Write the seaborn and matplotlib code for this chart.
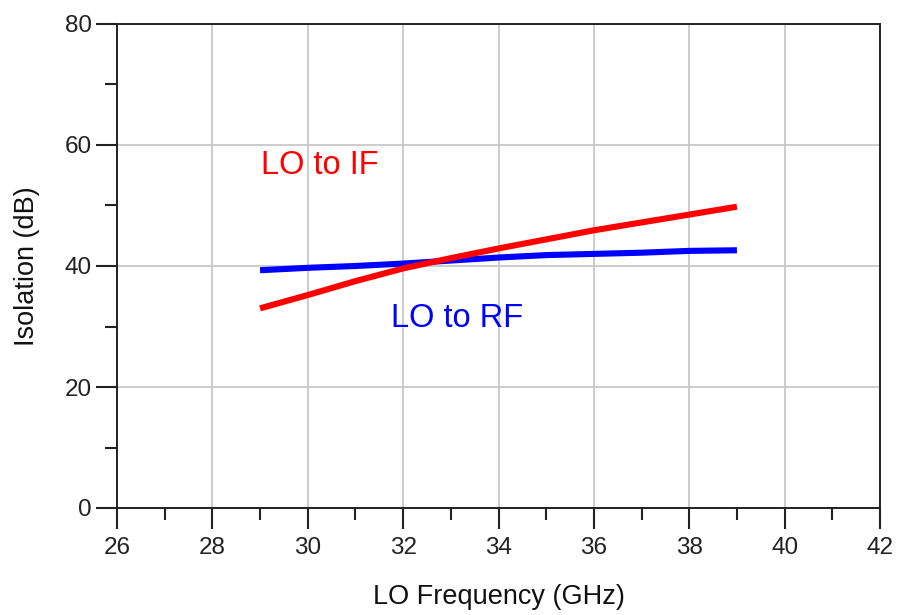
import matplotlib
matplotlib.use("Agg")
import matplotlib.pyplot as plt
from matplotlib.ticker import MultipleLocator
import seaborn as sns
import pandas as pd

# LO frequency sweep (GHz)
freq_ghz = [29, 30, 31, 32, 33, 34, 35, 36, 37, 38, 39]
# LO-to-IF isolation (dB)
lo_to_if = [33.0, 35.2, 37.5, 39.6, 41.3, 42.9, 44.4, 45.9, 47.2, 48.5, 49.8]
# LO-to-RF isolation (dB)
lo_to_rf = [39.3, 39.7, 40.0, 40.4, 40.9, 41.4, 41.8, 42.0, 42.2, 42.5, 42.6]

x_ticks = [26, 28, 30, 32, 34, 36, 38, 40, 42]
y_ticks = [0, 20, 40, 60, 80]

sns.set_theme(style="white")
plt.rcParams["font.family"] = ["Liberation Sans", "DejaVu Sans"]

df = pd.DataFrame({"freq": freq_ghz, "LO to IF": lo_to_if, "LO to RF": lo_to_rf})

fig = plt.figure(figsize=(8.98, 6.15), dpi=100)
ax = fig.add_axes([117 / 898, 1 - 508 / 615, (880 - 117) / 898, (508 - 24) / 615])

sns.lineplot(data=df, x="freq", y="LO to RF", ax=ax, color="#0000ff",
             linewidth=4.4, solid_capstyle="butt", zorder=3)
sns.lineplot(data=df, x="freq", y="LO to IF", ax=ax, color="#ff0000",
             linewidth=4.4, solid_capstyle="butt", zorder=4)

ax.set_xlim(26, 42)
ax.set_ylim(0, 80)
ax.set_xticks(x_ticks)
ax.set_yticks(y_ticks)
ax.xaxis.set_minor_locator(MultipleLocator(1))
ax.yaxis.set_minor_locator(MultipleLocator(10))

ax.grid(True, which="major", color="#c8c8c8", linewidth=1.3)
ax.set_axisbelow(True)
for s in ax.spines.values():
    s.set_color("#222222")
    s.set_linewidth(1.4)

ax.tick_params(axis="both", which="major", direction="out", length=15, width=1.5,
               color="#222222", labelsize=17.5, labelcolor="#222222", pad=3,
               left=True, bottom=True)
ax.tick_params(axis="both", which="minor", direction="out", length=8.5, width=1.5,
               color="#222222", left=True, bottom=True)
ax.tick_params(axis="x", which="major", pad=6)

ax.set_xlabel("LO Frequency (GHz)", fontsize=19.5, color="#111111", labelpad=18)
ax.set_ylabel("Isolation (dB)", fontsize=19.5, color="#111111", labelpad=18)

ax.text(29.03, 56.6, "LO to IF", color="#ff0000", fontsize=23.5, va="center", ha="left")
ax.text(31.75, 31.3, "LO to RF", color="#0000ff", fontsize=23.5, va="center", ha="left")

fig.savefig("out.png", dpi=100)
